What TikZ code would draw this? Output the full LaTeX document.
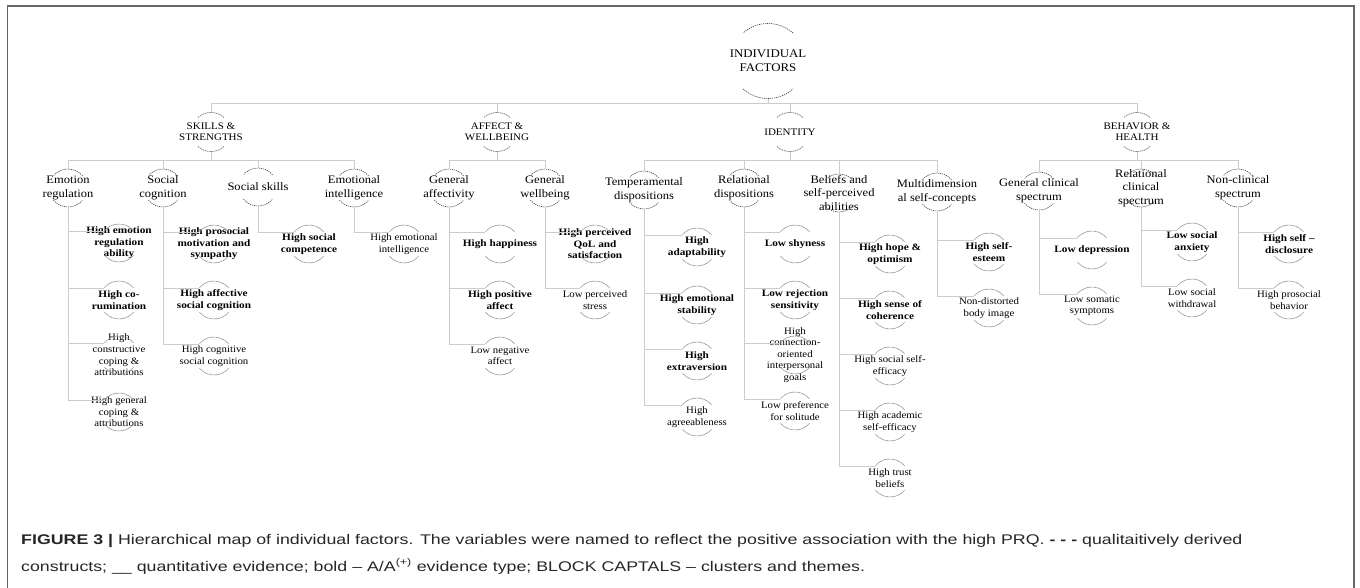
\documentclass[tikz,border=0pt]{standalone}
\usepackage{fontspec}
\setmainfont{Liberation Serif}[FakeStretch=1.1, BoldFeatures={FakeStretch=1.15}]
\newfontfamily\capfont{Liberation Sans}[FakeStretch=1.27]

% top and bottom arc round a node: name, radius, half span, style
\newcommand\halo[4]{%
  \draw[#4] ([shift={(90-#3:#2)}]#1.center) arc (90-#3:90+#3:#2)
    ([shift={(270-#3:#2)}]#1.center) arc (270-#3:270+#3:#2);}

\begin{document}
\begin{tikzpicture}[
  x=1pt, y=-1pt,
  every node/.style={align=center, inner sep=0pt},
  rootnode/.style={minimum height=75pt, font=\fontsize{11.7}{14}\selectfont},
  theme/.style={minimum height=39pt, font=\fontsize{10}{11}\selectfont},
  topic/.style={minimum height=38pt, font=\fontsize{11.4}{13.5}\selectfont},
  item/.style={font=\fontsize{9.8}{11.6}\selectfont},
  itemA/.style={font=\fontsize{9.8}{11.6}\selectfont\bfseries},
  link/.style={draw=black!20, line width=1pt},
  qual/.style={draw=black!75, line width=0.6pt, dash pattern=on 1.2pt off 0.9pt},
  quant/.style={draw=black!40, line width=0.6pt},
  captext/.style={anchor=base west, text=black!85, font=\capfont\fontsize{14}{16}\selectfont},
  ]
  \useasboundingbox (0,0) rectangle (1360,588);
  \draw[black!60, line width=1.3pt] (7.5,588) -- (7.5,6) -- (1354,6) -- (1354,588);

  \node[rootnode] (root) at (768,61) {INDIVIDUAL\\FACTORS};

  \node[theme] (skills) at (211,132) {SKILLS \&\\STRENGTHS};
  \node[theme] (affect) at (497,132) {AFFECT \&\\WELLBEING};
  \node[theme] (identity) at (790,132) {IDENTITY};
  \node[theme] (behav) at (1137,132) {BEHAVIOR \&\\HEALTH};

  \node[topic] (emoreg) at (68,188) {Emotion\\regulation};
  \node[topic] (soccog) at (163,188) {Social\\cognition};
  \node[topic] (socsk) at (258,187) {Social skills};
  \node[topic] (emoint) at (354,188) {Emotional\\intelligence};
  \node[topic] (genaff) at (449,188) {General\\affectivity};
  \node[topic] (genwell) at (545,188) {General\\wellbeing};
  \node[topic] (temper) at (644,190) {Temperamental\\dispositions};
  \node[topic] (reldisp) at (744,188) {Relational\\dispositions};
  \node[topic] (belief) at (839,193) {Beliefs and\\self-perceived\\abilities};
  \node[topic] (multi) at (937,192) {Multidimension\\al self-concepts};
  \node[topic] (genclin) at (1039,191) {General clinical\\spectrum};
  \node[topic] (relclin) at (1141,188) {Relational\\clinical\\spectrum};
  \node[topic] (nonclin) at (1238,188) {Non-clinical\\spectrum};

  \node[itemA] (er1) at (119,243) {High emotion\\regulation\\ability};
  \node[itemA] (er2) at (119,300) {High co-\\rumination};
  \node[item] (er3) at (119,355) {High\\constructive\\coping \&\\attributions};
  \node[item] (er4) at (119,412) {High general\\coping \&\\attributions};
  \node[itemA] (sc1) at (214,244) {High prosocial\\motivation and\\sympathy};
  \node[itemA] (sc2) at (214,300) {High affective\\social cognition};
  \node[item] (sc3) at (214,356) {High cognitive\\social cognition};
  \node[itemA] (ss1) at (309,244) {High social\\competence};
  \node[item] (ei1) at (404,244) {High emotional\\intelligence};
  \node[itemA] (ga1) at (500,244) {High happiness};
  \node[itemA] (ga2) at (500,300) {High positive\\affect};
  \node[item] (ga3) at (500,356) {Low negative\\affect};
  \node[itemA] (gw1) at (595,244) {High perceived\\QoL and\\satisfaction};
  \node[item] (gw2) at (595,300) {Low perceived\\stress};
  \node[itemA] (td1) at (697,247) {High\\adaptability};
  \node[itemA] (td2) at (697,305) {High emotional\\stability};
  \node[itemA] (td3) at (697,361) {High\\extraversion};
  \node[item] (td4) at (697,417) {High\\agreeableness};
  \node[itemA] (rd1) at (795,244) {Low shyness};
  \node[itemA] (rd2) at (795,300) {Low rejection\\sensitivity};
  \node[item] (rd3) at (795,355) {High\\connection-\\oriented\\interpersonal\\goals};
  \node[item] (rd4) at (795,411) {Low preference\\for solitude};
  \node[itemA] (bs1) at (890,254) {High hope \&\\optimism};
  \node[itemA] (bs2) at (890,310) {High sense of\\coherence};
  \node[item] (bs3) at (890,366) {High social self-\\efficacy};
  \node[item] (bs4) at (890,422) {High academic\\self-efficacy};
  \node[item] (bs5) at (890,478) {High trust\\beliefs};
  \node[itemA] (ms1) at (989,252) {High self-\\esteem};
  \node[item] (ms2) at (989,308) {Non-distorted\\body image};
  \node[itemA] (gc1) at (1092,250) {Low depression};
  \node[item] (gc2) at (1092,306) {Low somatic\\symptoms};
  \node[itemA] (rc1) at (1192,242) {Low social\\anxiety};
  \node[item] (rc2) at (1192,298) {Low social\\withdrawal};
  \node[itemA] (nc1) at (1289,244) {High self --\\disclosure};
  \node[item] (nc2) at (1289,300) {High prosocial\\behavior};

  \coordinate (top) at (768,104);
  \foreach \t in {skills,affect,identity,behav}
    \draw[link] (root.south) -- (top) -| (\t.north);
  \foreach \t/\c in {skills/emoreg,skills/soccog,skills/socsk,skills/emoint,
      affect/genaff,affect/genwell,identity/temper,identity/reldisp,
      identity/belief,identity/multi,behav/genclin,behav/relclin,behav/nonclin}
    \draw[link] (\t.south) -- ++(0,8.5) -| (\c.north);
  \foreach \c/\l in {emoreg/er1,emoreg/er2,emoreg/er3,emoreg/er4,
      soccog/sc1,soccog/sc2,soccog/sc3,socsk/ss1,emoint/ei1,
      genaff/ga1,genaff/ga2,genaff/ga3,genwell/gw1,genwell/gw2,
      temper/td1,temper/td2,temper/td3,temper/td4,
      reldisp/rd1,reldisp/rd2,reldisp/rd3,reldisp/rd4,
      belief/bs1,belief/bs2,belief/bs3,belief/bs4,belief/bs5,
      multi/ms1,multi/ms2,genclin/gc1,genclin/gc2,
      relclin/rc1,relclin/rc2,nonclin/nc1,nonclin/nc2}
    \draw[link] (\c.south) |- ([shift={(142:19pt)}]\l.center);

  \halo{root}{37.5pt}{42}{qual}
  \foreach \n in {skills,affect,identity,behav}
    {\halo{\n}{19.5pt}{42}{qual}}
  \foreach \n in {emoreg,soccog,socsk,emoint,genaff,genwell,temper,reldisp,
      belief,multi,genclin,relclin,nonclin}
    {\halo{\n}{19pt}{50}{qual}}
  \foreach \n in {er1,er2,er3,er4,sc1,sc2,sc3,ss1,ei1,ga1,ga2,ga3,gw1,gw2,
      td1,td2,td3,td4,rd1,rd2,rd3,rd4,bs1,bs2,bs3,bs4,bs5,ms1,ms2,
      gc1,gc2,rc1,rc2,nc1,nc2}
    {\halo{\n}{19pt}{50}{quant}}

  \node[captext] (cap1) at (21,544) {\textbf{FIGURE 3 |} Hierarchical map of individual factors. The variables were named to reflect the positive association with the high PRQ. \textbf{- - -} qualitaitively derived};
  \node[captext] (cap2) at (21,571) {constructs; \_\_ quantitative evidence; bold – A/A\textsuperscript{(+)} evidence type; BLOCK CAPTALS – clusters and themes.};
\end{tikzpicture}
\end{document}
